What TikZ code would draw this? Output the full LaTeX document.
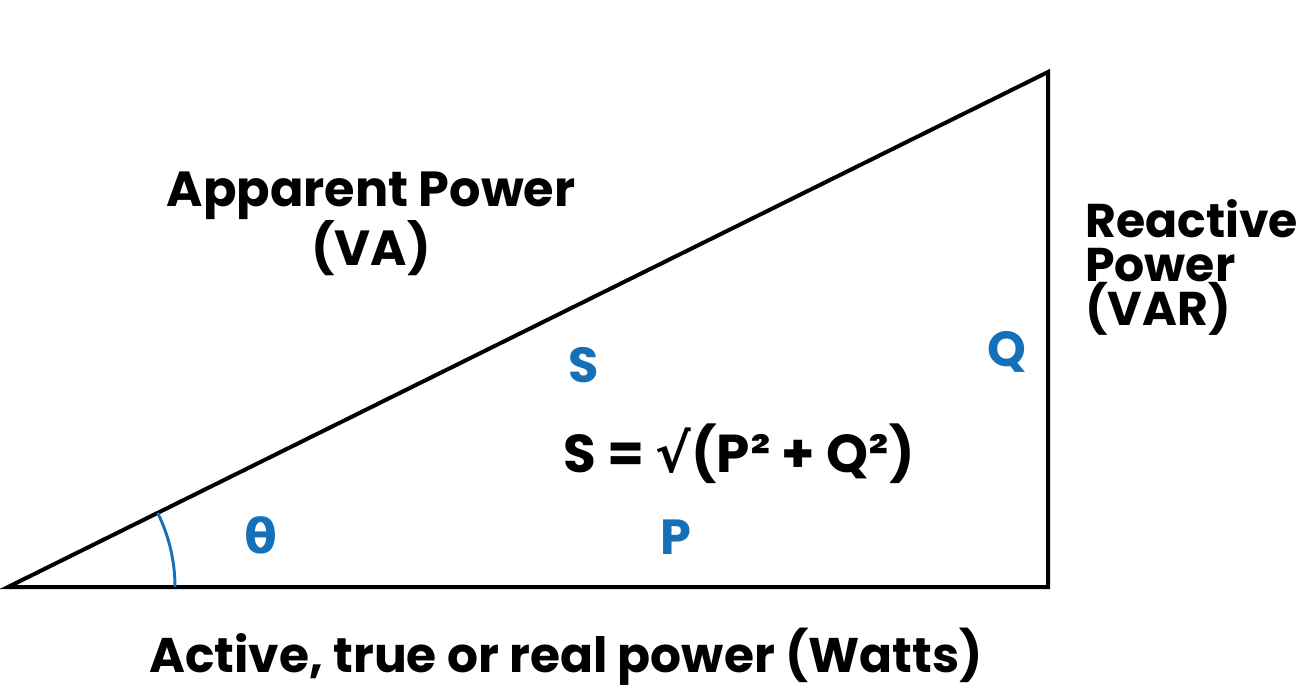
\documentclass[tikz,border=0pt]{standalone}
\usepackage{fontspec}
\setmainfont{Poppins}
\newfontfamily\symfnt{DejaVu Sans}
\definecolor{qblue}{RGB}{22,112,184}
\tikzset{
  side/.style={line width=3pt, line join=miter},
  lbl/.style={inner sep=0pt, font=\fontsize{37}{33.5}\selectfont\bfseries},
  sym/.style={lbl, text=qblue},
}
\begin{document}
\begin{tikzpicture}[x=0.75pt,y=0.75pt,yscale=-1,xscale=1]
\useasboundingbox (0,0) rectangle (1301,690);

%Triangle corners
\coordinate (bl) at (8,587);
\coordinate (br) at (1048,587);
\coordinate (tr) at (1048,72);

%Shape: Triangle
\draw [side] (bl) -- (br) -- (tr) -- cycle ;
%Angle arc
\draw [qblue, line width=2.2pt] (bl) ++(0:167) arc (0:-26.3:167) ;

% Text Node
\node [lbl, align=center] (apparent) at (371,224) {Apparent Power\\(VA)};
% Text Node
\node [lbl, align=left, anchor=west, font=\fontsize{35.5}{33}\selectfont\bfseries] (reactive) at (1085,267) {Reactive\\Power\\(VAR)};
% Text Node
\node [lbl, font=\fontsize{36.5}{33}\selectfont\bfseries] (active) at (566,657) {Active, true or real power (Watts)};
% Text Node
\node [sym] (S) at (584,365) {S};
% Text Node
\node [sym] (Q) at (1007,352) {Q};
% Text Node
\node [sym] (P) at (676,537) {P};
% Text Node
\node [sym, font=\fontsize{36}{33}\symfnt\bfseries] (theta) at (261,535) {θ};
% Text Node
\node [lbl, font=\fontsize{40}{36}\selectfont\bfseries] (formula) at (739,454) {S = {\symfnt\bfseries √}(P² + Q²)};

\end{tikzpicture}
\end{document}
